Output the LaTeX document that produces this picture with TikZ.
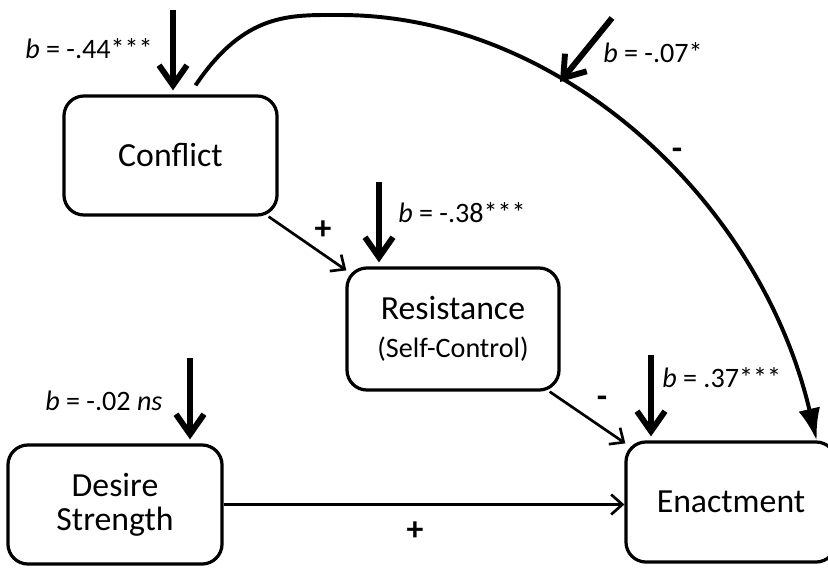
\documentclass[tikz,border=0pt]{standalone}
\usepackage{fontspec}
\setmainfont{Carlito}
\usetikzlibrary{calc, arrows.meta}
\tikzset{>=latex,
  box/.style={draw, line width=2.3pt, rounded corners=0.5cm, align=center, inner sep=0pt, font=\fontsize{24}{24}\selectfont},
  bigarrow/.style={line width=4.2pt, -{Straight Barb[length=0.5cm, width=0.7cm]}, shorten >=0.1cm},
  thinarrow/.style={line width=1.9pt, -{Straight Barb[length=0.28cm, width=0.5cm]}},
  coef/.style={anchor=base west, font=\fontsize{20}{24}\selectfont, inner sep=0pt},
  sign/.style={font=\fontsize{24}{24}\selectfont\bfseries, inner sep=0pt}
}

\begin{document}
\begin{tikzpicture}[x=0.025cm, y=-0.025cm]
\useasboundingbox (0,0) rectangle (828,567);
\node[box, minimum width=5.325cm, minimum height=2.975cm] (conflict) at (170.5,155.5) {Conflict};
\node[box, minimum width=5.3cm, minimum height=3.05cm] (resist) at (453,329) {Resistance\\[3pt]\fontsize{20}{24}\selectfont (Self-Control)};
\node[box, minimum width=5.35cm, minimum height=2.975cm] (desire) at (115,504.5) {Desire\\Strength};
\node[box, minimum width=5.25cm, minimum height=3cm] (enact) at (731,502) {Enactment};

\coordinate (cTop) at (173,10);
\coordinate (rTop) at (379,182);
\coordinate (dTop) at (190,358);
\coordinate (eTop) at (651,355);
\coordinate (gTail) at (612,18);
\coordinate (gTip) at (560,82);

\draw[bigarrow] (cTop) -- (cTop |- conflict.north);
\draw[bigarrow] (rTop) -- (rTop |- resist.north);
\draw[bigarrow] (dTop) -- (dTop |- desire.north);
\draw[bigarrow] (eTop) -- (eTop |- enact.north);
\draw[bigarrow, shorten >=0pt] (gTail) -- (gTip);

\draw[line width=2.8pt, -{Latex[length=0.8cm, width=0.55cm]}] ([shift={(25,-9)}]conflict.north) .. controls (245,12) and (290,15) .. (340,15) .. controls (560,15) and (760,200) .. ([shift={(-21,0)}]enact.north east);

\draw[thinarrow] ([shift={(-10,0)}]conflict.south east) -- ([shift={(1,4)}]resist.north west);
\draw[thinarrow] ([shift={(-11,0)}]resist.south east) -- ([shift={(1,3)}]enact.north west);
\draw[thinarrow] (desire.east) -- (desire.east -| enact.west);

\node[coef] (cLbl) at (25,58) {\textit{b} = -.44***};
\node[coef] (gLbl) at (603,62) {\textit{b} = -.07*};
\node[coef] (rLbl) at (398,222) {\textit{b} = -.38***};
\node[coef] (eLbl) at (662,387) {\textit{b} = .37***};
\node[coef] (dLbl) at (45,410) {\textit{b} = -.02 \textit{ns}};

\node[sign] (pCR) at (323,230) {+};
\node[sign] (mCE) at (677,154) {-};
\node[sign] (mRE) at (602,402) {-};
\node[sign] (pDE) at (415,531) {+};
\end{tikzpicture}
\end{document}
